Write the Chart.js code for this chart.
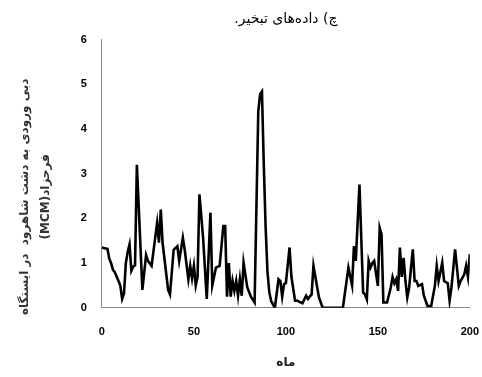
<!DOCTYPE html>
<html>
<head>
<meta charset="utf-8">
<script src="https://cdn.jsdelivr.net/npm/chart.js@4/dist/chart.umd.min.js"></script>
<style>
html,body{margin:0;padding:0;background:#fff;}
#wrap{width:482px;height:377px;}
</style>
</head>
<body>
<div id="wrap"><canvas id="c" width="482" height="377" dir="rtl"></canvas></div>
<script>
const months = [0,2,3,4,5,6,7,8,9,10,11,12,13,14,15,16,17,18,19,22,24,25,27,30,31,32,33,36,37,39,41,42,44,45,47,48,49,50,51,52,53,55,57,59,60,62,64,66,67,68,69,70,71,72,73,74,75,76,77,79,81,83,85,86,87,88,89,90,91,92,94,96,97,98,99,100,102,103,105,106,108,109,111,112,114,115,116,118,120,131,134,136,137,138,140,142,143,144,145,146,147,148,150,151,152,153,155,157,158,159,160,161,162,163,164,165,166,167,169,170,171,172,174,175,177,179,181,182,183,185,186,188,189,190,192,194,195,197,198,199,200];
const values = [1.35,1.33,1.32,1.1,1.0,0.85,0.8,0.7,0.6,0.5,0.2,0.32,1.0,1.25,1.42,0.83,0.92,0.95,3.2,0.4,1.18,1.05,0.94,1.9,1.46,2.2,1.45,0.4,0.3,1.3,1.38,1.05,1.57,1.3,0.64,0.94,0.66,0.94,0.5,0.7,2.54,1.57,0.2,2.13,0.5,0.9,0.94,1.83,1.83,0.25,1.0,0.25,0.6,0.38,0.6,0.27,0.64,0.27,1.01,0.46,0.25,0.12,4.4,4.78,4.84,3.2,1.8,0.8,0.35,0.15,0.0,0.64,0.6,0.25,0.53,0.55,1.35,0.7,0.16,0.16,0.12,0.1,0.27,0.2,0.3,0.94,0.7,0.23,0.0,0.0,0.9,0.5,1.38,1.05,2.76,0.34,0.3,0.19,1.05,0.9,1.0,1.05,0.49,1.79,1.64,0.12,0.12,0.45,0.69,0.55,0.64,0.38,1.35,0.69,1.12,0.6,0.23,0.45,1.31,0.6,0.6,0.49,0.53,0.27,0.04,0.04,0.49,0.94,0.6,1.01,0.6,0.55,0.16,0.45,1.31,0.49,0.6,0.75,0.94,0.69,1.2];
const xTicks = [0,50,100,150,200];
const yTicks = [0,1,2,3,4,5,6];
const titleText = 'چ) داده‌های تبخیر.';
const yTitleLines = ['دبی ورودی به دشت شاهرود  در ایستگاه','فرحزاد(MCM)'];
const xTitle = 'ماه';

const lead = '\u00A0'.repeat(11);
const points = months.map((m,i)=>({x:m,y:values[i]}));
new Chart(document.getElementById('c'), {
  type: 'line',
  data: { datasets: [{ data: points, borderColor:'#000', borderWidth:2.6, pointRadius:0, tension:0, fill:false }] },
  options: {
    responsive:false, animation:false, devicePixelRatio:1,
    layout:{ padding:{ left:15, right:0, top:6, bottom:7 } },
    plugins:{
      legend:{display:false}, tooltip:{enabled:false},
      title:{ display:true, text:titleText, fullSize:false, color:'#000',
        font:{ family:'DejaVu Sans', size:14, weight:'normal' }, padding:{top:5,bottom:12} }
    },
    scales:{
      x:{ type:'linear', min:0, max:200,
        afterBuildTicks: s => { s.ticks = xTicks.map(v=>({value:v})); },
        grid:{ display:false, drawTicks:false }, border:{ display:true, color:'#888', width:1 },
        ticks:{ color:'#000', font:{ family:'Liberation Sans', size:11, weight:'bold', lineHeight:3.8 }, padding:3, maxRotation:0 },
        title:{ display:true, text:xTitle, color:'#222', font:{ family:'DejaVu Sans', size:12, weight:'bold' }, padding:{top:0,bottom:0} }
      },
      y:{ min:0, max:6,
        afterBuildTicks: s => { s.ticks = yTicks.map(v=>({value:v})); },
        grid:{ display:false, drawTicks:false }, border:{ display:true, color:'#888', width:1 },
        ticks:{ color:'#000', font:{ family:'Liberation Sans', size:11, weight:'bold' }, padding:15 },
        title:{ display:true, text:yTitleLines.map(t=>lead+t), color:'#333', font:{ family:'DejaVu Sans', size:12, weight:'bold', lineHeight:1.7 }, padding:{top:0,bottom:10} }
      }
    }
  }
});
</script>
</body>
</html>
